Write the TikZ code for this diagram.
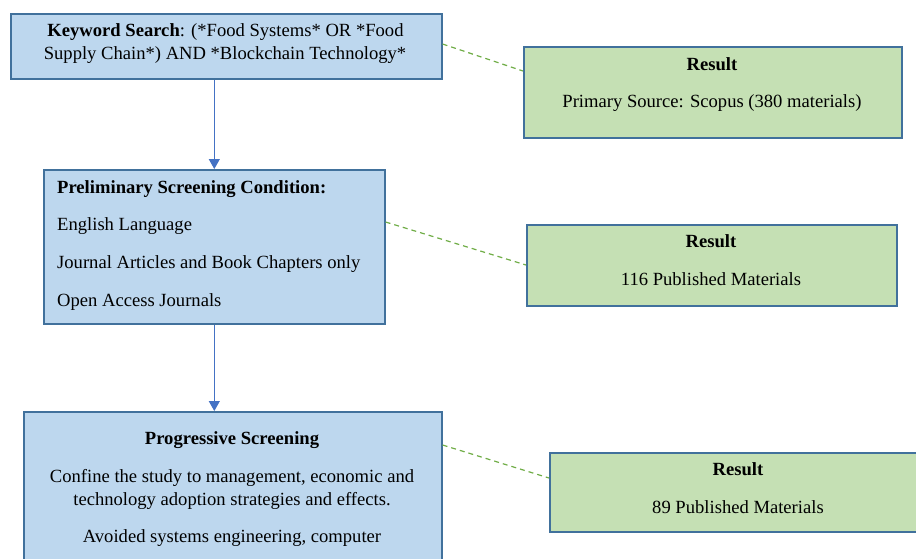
\documentclass[tikz,border=0pt]{standalone}
\usepackage{fontspec}
\setmainfont{Liberation Serif}
\usetikzlibrary{arrows.meta}
\definecolor{boxblue}{HTML}{BDD7EE}
\definecolor{boxgreen}{HTML}{C5E0B4}
\definecolor{edgeblue}{HTML}{41719C}
\definecolor{flowblue}{HTML}{4472C4}
\definecolor{linkgreen}{HTML}{70AD47}

\begin{document}
\begin{tikzpicture}[x=1pt,y=-1pt,
  stagebox/.style={draw=edgeblue, line width=1.6pt, fill=boxblue, anchor=north west, inner sep=0pt},
  resultbox/.style={draw=edgeblue, line width=1.6pt, fill=boxgreen, anchor=north west, inner sep=0pt},
  txt/.style={font=\fontsize{18.6}{22}\selectfont, inner sep=0pt, anchor=mid, yshift=-3pt},
  ltxt/.style={txt, anchor=mid west},
  flowarrow/.style={draw=flowblue, line width=1.1pt, -{Triangle[length=10pt,width=11pt]}},
  linkline/.style={draw=linkgreen, line width=1.2pt, dash pattern=on 5pt off 4pt}]

\useasboundingbox (0,0) rectangle (916,558);

% search stages
\node[stagebox, minimum width=431pt, minimum height=65pt] (kw) at (10,13) {};
\node[stagebox, minimum width=341pt, minimum height=154pt] (pre) at (43,169) {};
\node[stagebox, minimum width=418pt, minimum height=200pt] (prog) at (23,411) {};

% results of each stage
\node[resultbox, minimum width=378pt, minimum height=91pt] (res1) at (523,46) {};
\node[resultbox, minimum width=370pt, minimum height=81pt] (res2) at (526,224) {};
\node[resultbox, minimum width=378pt, minimum height=79pt] (res3) at (549,452) {};

% stage texts
\node[txt] (kw1) at (225.5,31) {\textbf{Keyword Search}: (*Food Systems* OR *Food};
\node[txt] (kw2) at (225,54) {Supply Chain*) AND *Blockchain Technology*};

\node[ltxt] (pre1) at (57,188) {\textbf{Preliminary Screening Condition:}};
\node[ltxt] (pre2) at (57,225) {English Language};
\node[ltxt] (pre3) at (57,263) {Journal Articles and Book Chapters only};
\node[ltxt] (pre4) at (57,301) {Open Access Journals};

\node[txt] (prog1) at (232,439) {\textbf{Progressive Screening}};
\node[txt] (prog2) at (232,477) {Confine the study to management, economic and};
\node[txt] (prog3) at (232,500) {technology adoption strategies and effects.};
\node[txt] (prog4) at (232,537) {Avoided systems engineering, computer};

% result texts
\node[txt] (r1a) at (712,65) {\textbf{Result}};
\node[txt] (r1b) at (712,102) {Primary Source: Scopus (380 materials)};
\node[txt] (r2a) at (711,242) {\textbf{Result}};
\node[txt] (r2b) at (711,280) {116 Published Materials};
\node[txt] (r3a) at (738,470) {\textbf{Result}};
\node[txt] (r3b) at (738,508) {89 Published Materials};

% flow between stages
\draw[flowarrow] (kw.south -| pre.north) -- (pre.north);
\draw[flowarrow] (pre.south) -- (pre.south |- prog.north);

% links from stages to results
\draw[linkline] ([yshift=-31pt]kw.north east) -- ([yshift=-25pt]res1.north west);
\draw[linkline] ([yshift=-53pt]pre.north east) -- ([yshift=-41pt]res2.north west);
\draw[linkline] ([yshift=-34pt]prog.north east) -- ([yshift=-26pt]res3.north west);
\end{tikzpicture}
\end{document}
